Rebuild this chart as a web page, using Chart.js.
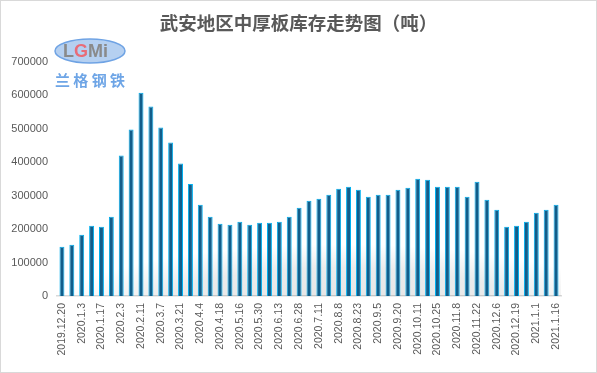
<!DOCTYPE html>
<html><head><meta charset="utf-8">
<script src="https://cdn.jsdelivr.net/npm/chart.js@4/dist/chart.umd.min.js"></script>
<style>html,body{margin:0;padding:0;background:#fff}#wrap{width:597px;height:373px}</style>
</head><body><div id="wrap"><canvas id="c" width="597" height="373"></canvas></div>
<script>
const titleText = '武安地区中厚板库存走势图（吨）';
const categories = [
 '2019.12.20','2019.12.27','2020.1.3','2020.1.10','2020.1.17','2020.1.23','2020.2.3','2020.2.7','2020.2.11','2020.2.28',
 '2020.3.7','2020.3.14','2020.3.21','2020.3.28','2020.4.4','2020.4.11','2020.4.18','2020.5.9','2020.5.16','2020.5.23',
 '2020.5.30','2020.6.5','2020.6.13','2020.6.20','2020.6.28','2020.7.4','2020.7.11','2020.7.25','2020.8.8','2020.8.15',
 '2020.8.23','2020.8.29','2020.9.5','2020.9.12','2020.9.20','2020.9.27','2020.10.11','2020.10.18','2020.10.25','2020.11.1',
 '2020.11.8','2020.11.15','2020.11.22','2020.11.29','2020.12.6','2020.12.12','2020.12.19','2020.12.26','2021.1.1','2021.1.9',
 '2021.1.16'];
const inventory = [
 147000,153000,183000,210000,207000,237000,420000,498000,608000,567000,
 504000,459000,396000,335000,273000,237000,216000,213000,222000,213000,
 219000,219000,222000,237000,264000,285000,291000,303000,321000,327000,
 318000,297000,303000,303000,318000,324000,351000,348000,327000,327000,
 327000,297000,342000,288000,258000,207000,210000,222000,249000,258000,
 273000];
const yTicks = [0,100000,200000,300000,400000,500000,600000,700000];

const decor = {
  id:'decor',
  beforeDraw(chart){
    const ctx = chart.ctx;
    ctx.save();
    ctx.fillStyle = '#fff';
    ctx.fillRect(0,0,chart.width,chart.height);
    ctx.restore();
  },
  beforeDatasetsDraw(chart){
    const ctx = chart.ctx, a = chart.chartArea;
    ctx.save();
    ctx.beginPath(); ctx.rect(a.left, a.top, a.right-a.left, a.bottom-a.top); ctx.clip();
    ctx.translate(340, 312);
    ctx.scale(1, 68/290);
    const g = ctx.createRadialGradient(0,0,0,0,0,290);
    g.addColorStop(0,'rgba(0,0,0,0.11)');
    g.addColorStop(0.65,'rgba(0,0,0,0.08)');
    g.addColorStop(1,'rgba(0,0,0,0)');
    ctx.fillStyle = g;
    ctx.beginPath(); ctx.arc(0,0,290,0,Math.PI*2); ctx.fill();
    ctx.restore();
  },
  afterDraw(chart){
    const ctx = chart.ctx;
    ctx.save();
    ctx.strokeStyle = '#d9d9d9'; ctx.lineWidth = 1;
    ctx.strokeRect(0.5,0.5,chart.width-1,chart.height-1);
    // logo
    ctx.beginPath();
    ctx.ellipse(90,51,35,12,0,0,Math.PI*2);
    ctx.fillStyle = '#b5d0f1'; ctx.fill();
    ctx.strokeStyle = '#6fa3e4'; ctx.lineWidth = 1.5; ctx.stroke();
    ctx.font = 'bold 18px "Liberation Sans", sans-serif';
    ctx.textBaseline = 'middle'; ctx.textAlign = 'left';
    let x = 63;
    const parts = [['L','#8a8a8a'],['G','#e86c78'],['M','#8a8a8a'],['i','#8a8a8a']];
    for (const [t,c] of parts){ ctx.fillStyle = c; ctx.fillText(t,x,52); x += ctx.measureText(t).width; }
    ctx.font = 'bold 15px "Noto Sans CJK SC", sans-serif';
    ctx.fillStyle = '#6ea5e6';
    ctx.textAlign = 'center';
    ctx.fillText('兰 格 钢 铁', 90, 80);
    ctx.restore();
  }
};

new Chart(document.getElementById('c'), {
  type:'bar',
  data:{ labels: categories, datasets:[{
    data: inventory,
    backgroundColor:'#125d8a',
    borderColor:'#00b0f0',
    borderWidth:1,
    barPercentage:0.5,
    categoryPercentage:1
  }]},
  options:{
    responsive:false, animation:false,
    layout:{ padding:{ left:0, right:0, top:0, bottom:0 } },
    plugins:{
      legend:{ display:false },
      tooltip:{ enabled:false },
      title:{ display:true, text:titleText, color:'#595959',
        font:{ family:'"Noto Sans CJK SC", sans-serif', size:18.5, weight:'bold', lineHeight:1.2 },
        padding:{ top:12, bottom:27.8 } }
    },
    scales:{
      x:{
        grid:{ display:false, drawTicks:false },
        border:{ display:true, color:'#d9d9d9', width:1.5 },
        ticks:{ autoSkip:false, maxRotation:90, minRotation:90, padding:7, color:'#595959',
          font:{ family:'"Liberation Sans", sans-serif', size:10.5 },
          callback:function(v,i){ return i % 2 === 0 ? categories[i] : ''; } },
        afterFit:function(s){ s.paddingLeft = 0; s.paddingRight = 36; s.height = 77; }
      },
      y:{
        min:0, max:700000,
        afterBuildTicks:function(s){ s.ticks = yTicks.map(v=>({value:v})); },
        grid:{ display:false, drawTicks:false },
        border:{ display:false },
        ticks:{ padding:9, color:'#595959', font:{ family:'"Liberation Sans", sans-serif', size:11 },
          callback:function(v){ return String(v); } },
        afterFit:function(s){ s.width = 57; }
      }
    }
  },
  plugins:[decor]
});
</script></body></html>
